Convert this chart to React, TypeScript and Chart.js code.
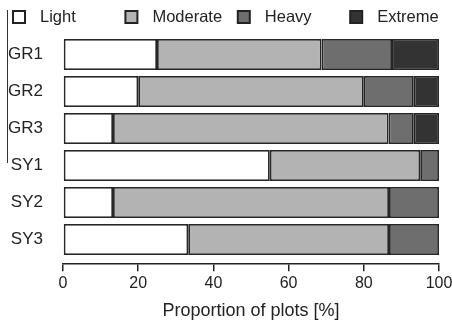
import React, { useEffect, useRef } from "react";
import { Chart, registerables } from "chart.js";

Chart.register(...registerables);

// Sites and damage-class shares (% of plots)
const sites = ["GR1", "GR2", "GR3", "SY1", "SY2", "SY3"];
const light = [25, 20, 13.3, 55, 13.3, 33.3];
const moderate = [43.75, 60, 73.3, 40, 73.4, 53.4];
const heavy = [18.75, 13.3, 6.7, 5, 13.3, 13.3];
const extreme = [12.5, 6.7, 6.7, 0, 0, 0];
const xTicks = [0, 20, 40, 60, 80, 100];

const classNames = ["Light", "Moderate", "Heavy", "Extreme"];
const classColors = ["#ffffff", "#b3b3b3", "#6e6e6e", "#333333"];
const seriesList = [light, moderate, heavy, extreme];

const FONT = "'Liberation Sans', Arial, Helvetica, sans-serif";
const INK = "#222222";

// Legend laid out in four equal columns above the plot
const columnLegend = {
  id: "columnLegend",
  afterDraw(chart: Chart) {
    const { ctx } = chart;
    ctx.save();
    chart.data.datasets.forEach((ds: any, i: number) => {
      const x = 13 + i * 112.4;
      const y = 11;
      ctx.fillStyle = ds.backgroundColor;
      ctx.fillRect(x, y, 12, 12);
      ctx.strokeStyle = INK;
      ctx.lineWidth = 2;
      ctx.strokeRect(x, y, 12, 12);
      ctx.fillStyle = INK;
      ctx.font = `16.5px ${FONT}`;
      ctx.textBaseline = "middle";
      ctx.textAlign = "left";
      ctx.fillText(ds.label, x + 27, y + 6);
    });
    // thin rule along the left margin
    ctx.strokeStyle = "#333";
    ctx.lineWidth = 1;
    ctx.beginPath();
    ctx.moveTo(7.5, 10);
    ctx.lineTo(7.5, 163);
    ctx.stroke();
    ctx.restore();
  },
};

export default function App() {
  const ref = useRef<HTMLCanvasElement>(null);

  useEffect(() => {
    if (!ref.current) return;
    const chart = new Chart(ref.current, {
      type: "bar",
      data: {
        datasets: seriesList.map((vals, k) => ({
          label: classNames[k],
          data: vals.map((v, i) => ({ x: v, y: i })),
          backgroundColor: classColors[k],
          borderColor: "#262626",
          borderWidth: 1.8,
          borderSkipped: false,
          categoryPercentage: 1,
          barPercentage: 0.84,
        })),
      },
      plugins: [columnLegend],
      options: {
        indexAxis: "y",
        animation: false,
        responsive: false,
        layout: { padding: { top: 36, left: 7, right: 13, bottom: 0 } },
        plugins: {
          legend: { display: false },
          tooltip: { enabled: false },
        },
        scales: {
          x: {
            type: "linear",
            stacked: true,
            min: 0,
            max: 100,
            afterBuildTicks: (scale: any) => {
              scale.ticks = xTicks.map((v) => ({ value: v }));
            },
            afterFit: (scale: any) => {
              scale.paddingLeft = 0;
              scale.paddingRight = 0;
            },
            grid: {
              drawOnChartArea: false,
              drawTicks: true,
              tickLength: 7,
              color: INK,
              lineWidth: 1.5,
            },
            border: { display: true, color: INK, width: 1.5 },
            ticks: {
              color: INK,
              font: { family: FONT, size: 16 },
              padding: 3,
              maxRotation: 0,
            },
            title: {
              display: true,
              text: "Proportion of plots [%]",
              color: INK,
              font: { family: FONT, size: 18 },
              padding: { top: 4, bottom: 0 },
            },
          },
          y: {
            type: "linear",
            stacked: true,
            reverse: true,
            offset: false,
            min: -0.5,
            max: 5.67,
            afterBuildTicks: (scale: any) => {
              scale.ticks = sites.map((_, i) => ({ value: i }));
            },
            afterFit: (scale: any) => {
              scale.width = 56;
              scale.paddingTop = 0;
              scale.paddingBottom = 0;
            },
            grid: { display: false },
            border: { display: false },
            ticks: {
              color: INK,
              font: { family: FONT, size: 17 },
              padding: 12,
              callback: (v: any) => sites[v as number] ?? "",
            },
          },
        },
      },
    });
    return () => chart.destroy();
  }, []);

  return (
    <div style={{ position: "absolute", left: 0, top: 0, width: 452, height: 322, background: "#fff" }}>
      <canvas ref={ref} width={452} height={322} />
    </div>
  );
}
